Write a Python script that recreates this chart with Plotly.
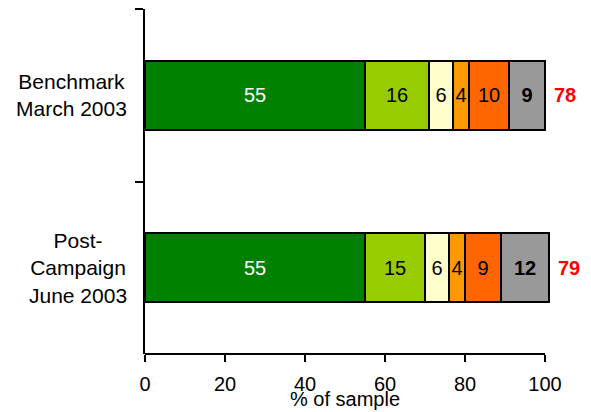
import plotly.graph_objects as go

categories = ["Benchmark<br>March 2003", "Post-<br>Campaign<br>June 2003"]
seg1 = [55, 55]
seg2 = [16, 15]
seg3 = [6, 6]
seg4 = [4, 4]
seg5 = [10, 9]
seg6 = [9, 12]
net = [78, 79]
x_ticks = [0, 20, 40, 60, 80, 100]

series = [
    (seg1, "#008000", "white", "%{x}"),
    (seg2, "#99CC00", "black", "%{x}"),
    (seg3, "#FFFFCC", "black", "%{x}"),
    (seg4, "#FF9900", "black", "%{x}"),
    (seg5, "#FF6600", "black", "%{x}"),
    (seg6, "#999999", "black", "<b>%{x}</b>"),
]

FONT = "Liberation Sans, Arial, sans-serif"

fig = go.Figure()
for vals, color, tcolor, tmpl in series:
    fig.add_trace(go.Bar(
        y=categories, x=vals, orientation="h",
        marker=dict(color=color, line=dict(color="black", width=2)),
        texttemplate=tmpl, textposition="inside", insidetextanchor="middle",
        textangle=0, constraintext="none", cliponaxis=False,
        textfont=dict(color=tcolor, size=20, family=FONT),
        width=0.4, showlegend=False, hoverinfo="skip",
    ))

totals = [sum(s[0][i] for s in series) for i in range(len(categories))]
for i, cat in enumerate(categories):
    fig.add_annotation(x=totals[i], y=cat, text=f"<b>{net[i]}</b>", showarrow=False,
                       xanchor="left", xshift=7, font=dict(color="#FF0000", size=20, family=FONT))
    fig.add_annotation(x=0, y=cat, xref="x", text=cat, showarrow=False, xanchor="right",
                       align="center", xshift=-16, font=dict(color="black", size=21, family=FONT))

fig.add_annotation(x=50, y=0, xref="x", yref="paper", yshift=-45, text="% of sample",
                   showarrow=False, yanchor="middle", font=dict(color="black", size=20, family=FONT))

# x axis line from 0 to 100 only
fig.add_shape(type="line", xref="x", yref="paper", x0=0, x1=x_ticks[-1], y0=0, y1=0,
              line=dict(color="black", width=2))

fig.update_layout(
    barmode="stack", width=591, height=412,
    margin=dict(l=137, r=38, t=1, b=66),
    plot_bgcolor="white", paper_bgcolor="white",
    font=dict(family=FONT, size=20, color="black"),
)
fig.update_xaxes(range=[0, 104], tickvals=x_ticks, ticks="outside", ticklen=7, tickwidth=2,
                 tickcolor="black", showline=False, showgrid=False, zeroline=False,
                 ticklabelstandoff=5,
                 tickfont=dict(size=20, family=FONT, color="black"))
fig.update_yaxes(autorange="reversed", type="category", tickson="boundaries", ticks="outside",
                 ticklen=8, tickwidth=2, tickcolor="black", showticklabels=False, showline=True,
                 linecolor="black", linewidth=2, showgrid=False, zeroline=False)

fig.write_html("out.html")
